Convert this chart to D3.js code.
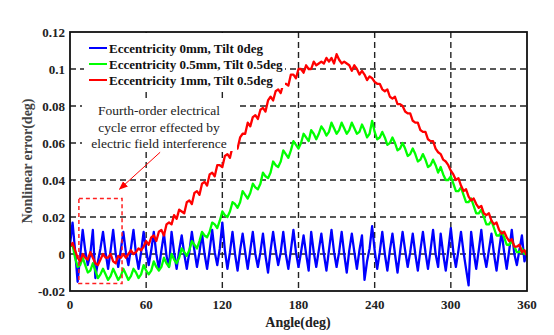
<!DOCTYPE html>
<html>
<head>
<meta charset="utf-8">
<script src="https://cdn.jsdelivr.net/npm/d3@7"></script>
<style>
  body { margin: 0; background: #fff; }
  svg { display: block; }
</style>
</head>
<body>
<div id="chart"></div>
<script>
// Nonlinear error samples, one value every 2 degrees from 0 to 360
const angleStep = 2;

const errTilt0 = [
  0.005, 0.017, 0.002, -0.015, -0.001, 0.013, 0.002, -0.006, 0.000, 0.013,
  -0.013, -0.004, 0.003, 0.012, 0.001, -0.008, 0.002, 0.013, 0.000, -0.007,
  0.002, 0.012, 0.001, -0.006, 0.003, 0.013, 0.000, -0.008, 0.001, 0.012,
  0.002, -0.006, 0.002, 0.012, 0.000, -0.008, 0.002, 0.011, -0.001, -0.007,
  0.012, 0.001, -0.008, 0.002, 0.010, 0.000, -0.008, 0.001, 0.012, 0.002,
  -0.007, 0.001, 0.011, 0.000, -0.008, 0.002, 0.013, 0.001, -0.006, 0.003,
  0.017, 0.002, -0.008, 0.001, 0.012, 0.000, -0.009, 0.002, 0.011, 0.001,
  -0.008, 0.002, 0.012, 0.000, -0.007, 0.001, 0.011, -0.001, -0.010, 0.002,
  0.012, 0.002, -0.006, 0.001, 0.012, 0.000, -0.008, 0.002, 0.013, 0.001,
  -0.007, 0.001, 0.010, 0.000, -0.009, 0.012, 0.001, -0.007, 0.002, 0.011,
  0.000, -0.009, 0.002, 0.013, 0.001, -0.007, 0.001, 0.012, 0.000, -0.010,
  0.002, 0.011, 0.001, -0.008, 0.002, 0.010, -0.014, -0.004, 0.003, 0.015,
  0.002, -0.008, 0.001, 0.012, 0.000, -0.009, 0.002, 0.011, 0.000, -0.010,
  0.001, 0.012, 0.002, -0.007, 0.001, 0.011, 0.000, -0.009, 0.002, 0.012,
  0.001, -0.008, 0.002, 0.013, 0.000, -0.007, 0.011, 0.000, -0.009, 0.002,
  0.014, 0.001, -0.007, 0.002, 0.012, 0.001, -0.008, -0.017, 0.012, 0.001,
  -0.008, 0.002, 0.013, 0.000, -0.007, 0.002, 0.011, 0.000, -0.009, 0.002,
  0.012, 0.001, -0.008, 0.002, 0.013, 0.000, -0.006, 0.002, 0.010, -0.004,
  0.001
];

const errEcc05 = [
  0.004, 0.005, -0.002, -0.007, -0.006, -0.002, -0.006, -0.010, -0.009, -0.005,
  -0.009, -0.013, -0.011, -0.008, -0.011, -0.014, -0.012, -0.008, -0.011, -0.014,
  -0.012, -0.008, -0.011, -0.014, -0.012, -0.008, -0.010, -0.013, -0.011, -0.006,
  -0.009, -0.011, -0.009, -0.004, -0.007, -0.009, -0.007, -0.002, -0.005, -0.007,
  0.000, -0.003, -0.005, -0.002, 0.003, 0.001, -0.001, 0.002, 0.007, 0.005,
  0.003, 0.007, 0.012, 0.010, 0.009, 0.012, 0.017, 0.016, 0.014, 0.018,
  0.023, 0.021, 0.020, 0.023, 0.028, 0.027, 0.025, 0.028, 0.034, 0.032,
  0.030, 0.033, 0.038, 0.036, 0.035, 0.038, 0.044, 0.042, 0.041, 0.044,
  0.050, 0.048, 0.047, 0.050, 0.056, 0.054, 0.052, 0.056, 0.061, 0.059,
  0.057, 0.060, 0.065, 0.063, 0.061, 0.067, 0.065, 0.062, 0.065, 0.069,
  0.067, 0.064, 0.066, 0.071, 0.068, 0.065, 0.067, 0.071, 0.068, 0.065,
  0.067, 0.071, 0.068, 0.065, 0.066, 0.070, 0.067, 0.063, 0.065, 0.072,
  0.066, 0.062, 0.063, 0.066, 0.063, 0.059, 0.060, 0.063, 0.060, 0.056,
  0.057, 0.060, 0.057, 0.053, 0.054, 0.057, 0.054, 0.050, 0.051, 0.054,
  0.051, 0.047, 0.048, 0.051, 0.048, 0.044, 0.047, 0.043, 0.040, 0.040,
  0.042, 0.038, 0.034, 0.034, 0.036, 0.032, 0.028, 0.028, 0.030, 0.026,
  0.022, 0.022, 0.024, 0.020, 0.016, 0.016, 0.018, 0.014, 0.010, 0.010,
  0.012, 0.009, 0.005, 0.005, 0.007, 0.004, 0.001, 0.001, 0.003, 0.000,
  0.002
];

const errEcc1 = [
  0.004, 0.006, 0.002, -0.002, -0.004, 0.000, -0.002, -0.003, 0.001, -0.002,
  -0.005, -0.006, -0.003, 0.000, -0.002, -0.002, 0.000, -0.004, -0.005, -0.001,
  -0.002, 0.000, -0.002, 0.000, 0.002, 0.000, 0.001, 0.003, 0.002, 0.004,
  0.007, 0.005, 0.009, 0.010, 0.007, 0.012, 0.013, 0.010, 0.016, 0.017,
  0.016, 0.021, 0.019, 0.024, 0.023, 0.022, 0.028, 0.029, 0.027, 0.033,
  0.034, 0.032, 0.038, 0.039, 0.037, 0.043, 0.044, 0.042, 0.048, 0.048,
  0.047, 0.053, 0.054, 0.052, 0.058, 0.059, 0.057, 0.063, 0.065, 0.065,
  0.071, 0.069, 0.074, 0.075, 0.073, 0.078, 0.079, 0.077, 0.083, 0.085,
  0.083, 0.088, 0.089, 0.087, 0.092, 0.092, 0.091, 0.097, 0.097, 0.095,
  0.100, 0.100, 0.098, 0.102, 0.100, 0.100, 0.104, 0.102, 0.103, 0.104,
  0.103, 0.106, 0.104, 0.106, 0.103, 0.108, 0.105, 0.103, 0.104, 0.103,
  0.102, 0.099, 0.102, 0.100, 0.097, 0.099, 0.097, 0.094, 0.096, 0.095,
  0.093, 0.092, 0.092, 0.089, 0.088, 0.089, 0.085, 0.084, 0.085, 0.081,
  0.081, 0.080, 0.077, 0.076, 0.076, 0.072, 0.071, 0.071, 0.067, 0.066,
  0.066, 0.062, 0.061, 0.061, 0.057, 0.055, 0.054, 0.051, 0.050, 0.048,
  0.045, 0.043, 0.040, 0.041, 0.037, 0.034, 0.035, 0.031, 0.029, 0.030,
  0.027, 0.025, 0.026, 0.022, 0.021, 0.022, 0.018, 0.016, 0.017, 0.013,
  0.011, 0.012, 0.009, 0.007, 0.008, 0.004, 0.004, 0.005, 0.001, 0.002,
  -0.001
];

const seriesNames = [
  "Eccentricity 0mm, Tilt 0deg",
  "Eccentricity 0.5mm, Tilt 0.5deg",
  "Eccentricity 1mm, Tilt 0.5deg"
];
const seriesColors = ["#0000ff", "#00ff00", "#ff0000"];

const xTicks = [0, 60, 120, 180, 240, 300, 360];
const yTicks = [-0.02, 0, 0.02, 0.04, 0.06, 0.08, 0.1, 0.12];
const yTickLabels = ["-0.02", "0", "0.02", "0.04", "0.06", "0.08", "0.1", "0.12"];

const noteLines = ["Fourth-order electrical", "cycle error effected by", "electric field interference"];
// highlighted region [angle0, angle1, err0, err1] and pointer [from, to]
const highlightBox = [7, 41, -0.016, 0.03];
const pointer = [[71, 0.055], [39, 0.035]];

const W = 554, H = 335;
const plot = { left: 70, right: 527, top: 32, bottom: 291 };

const svg = d3.select("#chart").append("svg")
  .attr("width", W)
  .attr("height", H)
  .style("font-family", "'Liberation Serif', 'Times New Roman', serif");

const x = d3.scaleLinear().domain([0, 360]).range([plot.left, plot.right]);
const y = d3.scaleLinear().domain([-0.02, 0.12]).range([plot.bottom, plot.top]);

svg.append("defs").append("clipPath").attr("id", "plotClip")
  .append("rect")
  .attr("x", plot.left).attr("y", plot.top)
  .attr("width", plot.right - plot.left).attr("height", plot.bottom - plot.top);

// Dashed grid
const grid = svg.append("g")
  .attr("stroke", "#222")
  .attr("stroke-width", 1.4)
  .attr("stroke-dasharray", "6,4");

grid.selectAll(".vgrid")
  .data(xTicks.filter(d => d > 0 && d < 360))
  .enter().append("line")
  .attr("x1", d => x(d)).attr("x2", d => x(d))
  .attr("y1", plot.top).attr("y2", plot.bottom);

grid.selectAll(".hgrid")
  .data(yTicks.filter(d => d > -0.02 && d < 0.12))
  .enter().append("line")
  .attr("x1", plot.left).attr("x2", plot.right)
  .attr("y1", d => y(d)).attr("y2", d => y(d));

// Error curves
const line = d3.line()
  .x((d, i) => x(i * angleStep))
  .y(d => y(d));

svg.append("g")
  .attr("clip-path", "url(#plotClip)")
  .selectAll("path")
  .data([errTilt0, errEcc05, errEcc1])
  .enter().append("path")
  .attr("fill", "none")
  .attr("stroke", (d, i) => seriesColors[i])
  .attr("stroke-width", 2.3)
  .attr("stroke-linejoin", "round")
  .attr("d", line);

// Legend (white box, no border)
const legend = svg.append("g");
legend.append("rect")
  .attr("x", 84).attr("y", 33)
  .attr("width", 201).attr("height", 55)
  .attr("fill", "#fff");

seriesNames.forEach((name, i) => {
  const ly = 48 + i * 16;
  legend.append("line")
    .attr("x1", 89).attr("x2", 107)
    .attr("y1", ly).attr("y2", ly)
    .attr("stroke", seriesColors[i])
    .attr("stroke-width", 2);
  legend.append("text")
    .attr("x", 109).attr("y", ly)
    .attr("dy", "0.35em")
    .attr("font-size", 13)
    .attr("font-weight", "bold")
    .attr("fill", "#111")
    .text(name);
});

// Annotation text
const note = svg.append("g");
note.append("rect")
  .attr("x", 82).attr("y", 99)
  .attr("width", 155).attr("height", 52)
  .attr("fill", "#fff");
note.selectAll("text")
  .data(noteLines)
  .enter().append("text")
  .attr("x", 159)
  .attr("y", (d, i) => 115 + i * 16.5)
  .attr("text-anchor", "middle")
  .attr("font-size", 13.5)
  .attr("fill", "#222")
  .text(d => d);

// Highlighted region and pointer
svg.append("rect")
  .attr("x", x(highlightBox[0]))
  .attr("y", y(highlightBox[3]))
  .attr("width", x(highlightBox[1]) - x(highlightBox[0]))
  .attr("height", y(highlightBox[2]) - y(highlightBox[3]))
  .attr("fill", "none")
  .attr("stroke", "#ff2020")
  .attr("stroke-width", 1.5)
  .attr("stroke-dasharray", "4,3");

svg.select("defs").append("marker")
  .attr("id", "arrowHead")
  .attr("viewBox", "0 0 10 10")
  .attr("refX", 9).attr("refY", 5)
  .attr("markerWidth", 9).attr("markerHeight", 9)
  .attr("markerUnits", "userSpaceOnUse")
  .attr("orient", "auto")
  .append("path")
  .attr("d", "M0,1 L10,5 L0,9 z")
  .attr("fill", "#ff0000");

svg.append("line")
  .attr("x1", x(pointer[0][0])).attr("y1", y(pointer[0][1]))
  .attr("x2", x(pointer[1][0])).attr("y2", y(pointer[1][1]))
  .attr("stroke", "#ff0000")
  .attr("stroke-width", 1)
  .attr("marker-end", "url(#arrowHead)");

// Axes frame
svg.append("rect")
  .attr("x", plot.left).attr("y", plot.top)
  .attr("width", plot.right - plot.left)
  .attr("height", plot.bottom - plot.top)
  .attr("fill", "none")
  .attr("stroke", "#111")
  .attr("stroke-width", 1.8);

// Tick labels
svg.append("g").selectAll("text")
  .data(xTicks)
  .enter().append("text")
  .attr("x", d => x(d))
  .attr("y", 309)
  .attr("text-anchor", "middle")
  .attr("font-size", 13)
  .attr("font-weight", "bold")
  .attr("fill", "#222")
  .text(d => d);

svg.append("g").selectAll("text")
  .data(yTicks)
  .enter().append("text")
  .attr("x", 65)
  .attr("y", d => y(d))
  .attr("dy", "0.35em")
  .attr("text-anchor", "end")
  .attr("font-size", 13)
  .attr("font-weight", "bold")
  .attr("fill", "#222")
  .text((d, i) => yTickLabels[i]);

// Axis titles
svg.append("text")
  .attr("x", 298).attr("y", 327)
  .attr("text-anchor", "middle")
  .attr("font-size", 14)
  .attr("font-weight", "bold")
  .attr("fill", "#222")
  .text("Angle(deg)");

svg.append("text")
  .attr("transform", "translate(32,161) rotate(-90)")
  .attr("text-anchor", "middle")
  .attr("font-size", 14)
  .attr("font-weight", "bold")
  .attr("fill", "#444")
  .text("Nonlinear error(deg)");
</script>
</body>
</html>
